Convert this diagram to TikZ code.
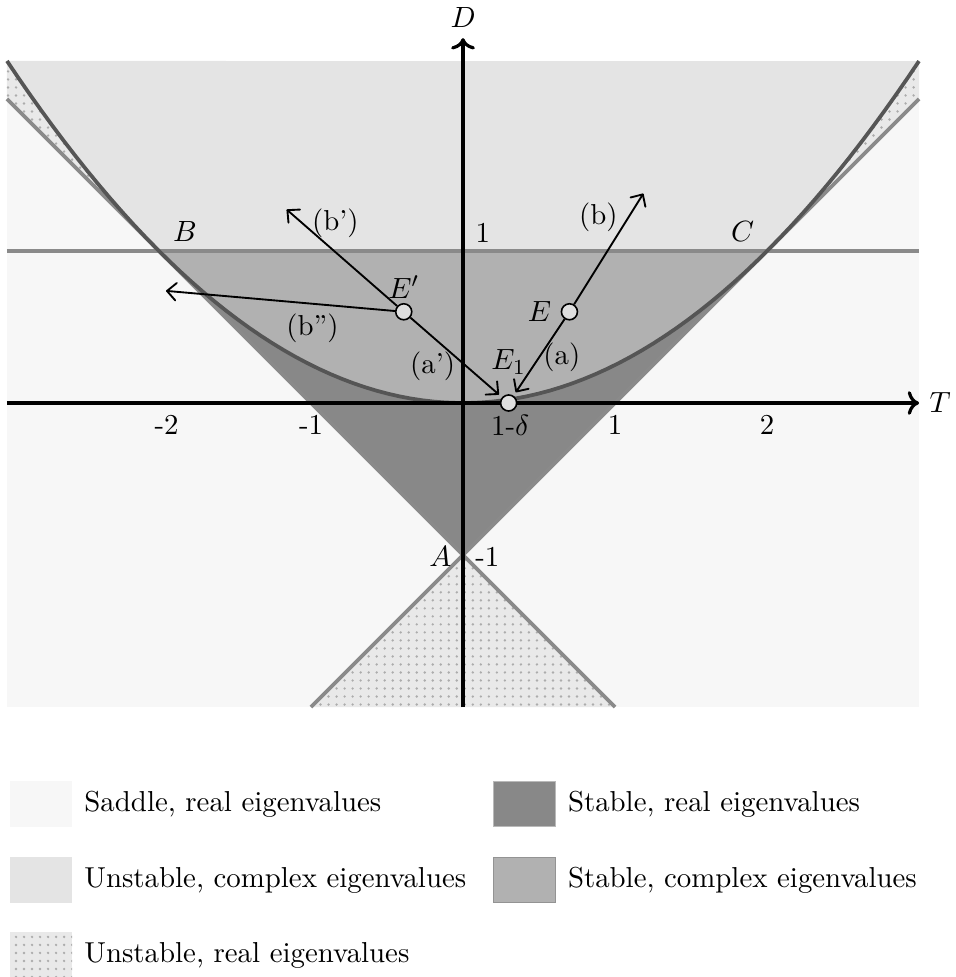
\documentclass[tikz,border=0pt]{standalone}
\usepackage{xcolor}
\definecolor{sdgray}{RGB}{247,247,247}
\definecolor{uncgray}{RGB}{228,228,228}
\definecolor{stcgray}{RGB}{177,177,177}
\definecolor{strgray}{RGB}{136,136,136}
\definecolor{dotbg}{RGB}{233,233,233}
\definecolor{dotfg}{RGB}{172,172,172}
\definecolor{parcol}{RGB}{85,85,85}
\definecolor{lincol}{RGB}{138,138,138}
\usepackage{tikz}
\usetikzlibrary{arrows.meta,positioning,patterns}
\tikzset{
  dotreg/.style={fill=dotbg,postaction={pattern=dots,pattern color=dotfg}},
  lin/.style={draw=lincol,line width=1.4pt},
  par/.style={draw=parcol,line width=1.4pt},
  axis/.style={->,line width=1.2pt},
  arr/.style={-{Straight Barb[length=1.2mm,width=2.3mm,round]},line width=0.7pt,shorten >=1.5pt},
  pt/.style={circle,draw,fill=gray!25,inner sep=0pt,minimum size=6pt,line width=0.6pt},
  legbox/.style={minimum width=8.2mm,minimum height=6mm,inner sep=0pt},
}

\begin{document}
\begin{tikzpicture}[x=2cm,y=2cm,font=\fontsize{10.8}{13}\selectfont]
\useasboundingbox (-3.046,-3.776) rectangle (3.237,2.651);
% regions
\fill[sdgray] (-3,-2) rectangle (3,2.25);
\fill[uncgray] plot[domain=-3:3,samples=60] (\x,{\x*\x/4}) -- cycle;
\fill[dotreg] (-2,1) -- (-3,2) -- (-3,2.25) -- plot[domain=-3:-2,samples=20] (\x,{\x*\x/4}) -- cycle;
\fill[dotreg] (2,1) -- (3,2) -- (3,2.25) -- plot[domain=3:2,samples=20] (\x,{\x*\x/4}) -- cycle;
\fill[dotreg] (0,-1) -- (1,-2) -- (-1,-2) -- cycle;
\fill[stcgray] plot[domain=-2:2,samples=40] (\x,{\x*\x/4}) -- cycle;
\fill[strgray] (0,-1) -- (2,1) -- plot[domain=2:-2,samples=40] (\x,{\x*\x/4}) -- cycle;
% boundaries
\draw[lin] (-3,2) -- (1,-2);
\draw[lin] (3,2) -- (-1,-2);
\draw[lin] (-3,1) -- (3,1);
\draw[par] plot[domain=-3:3,samples=80] (\x,{\x*\x/4});
% axes
\draw[axis] (-3,0) -- (3,0) node[right] (tlab) {$T$};
\draw[axis] (0,-2) -- (0,2.4) node[above] (dlab) {$D$};
\node (tm2) at (-1.95,-0.145) {-2};
\node (tm1) at (-1,-0.145) {-1};
\node (tp1) at (1,-0.145) {1};
\node (tp2) at (2,-0.145) {2};
\node (dp1) at (0.13,1.12) {1};
\node (labB) at (-1.83,1.13) {$B$};
\node (labC) at (1.84,1.13) {$C$};
\node (labA) at (-0.15,-1.01) {$A$};
\node (dm1) at (0.16,-1.01) {-1};
% equilibria
\node[pt] (E1) at (0.3,0) {};
\node[pt] (E) at (0.7,0.6) {};
\node[pt] (Ep) at (-0.39,0.6) {};
\node[left=0pt of E] (Elab) {$E$};
\node[above=-0.6mm of Ep] (Eplab) {$E'$};
\node (E1lab) at (0.3,0.27) {$E_1$};
\node (dlt) at (0.31,-0.15) {1-$\delta$};
% perturbations
\coordinate (bEnd) at (1.2,1.4);
\coordinate (bpEnd) at (-1.18,1.29);
\coordinate (bppEnd) at (-1.98,0.74);
\draw[arr] (E) -- (E1);
\draw[arr] (Ep) -- (E1);
\draw[arr] (E) -- (bEnd);
\draw[arr] (Ep) -- (bpEnd);
\draw[arr] (Ep) -- (bppEnd);
\node (la) at (0.65,0.30) {(a)};
\node (lap) at (-0.2,0.24) {(a')};
\node (lb) at (0.89,1.22) {(b)};
\node (lbp) at (-0.84,1.18) {(b')};
\node (lbpp) at (-0.99,0.49) {(b'')};
% legend
\node[legbox,fill=sdgray] (kSad) at (-2.776,-2.638) {};
\node[right=0.3mm of kSad] (tSad) {Saddle, real eigenvalues};
\node[legbox,fill=uncgray] (kUnc) at (-2.776,-3.138) {};
\node[right=0.3mm of kUnc] (tUnc) {Unstable, complex eigenvalues};
\node[legbox,dotreg] (kUnr) at (-2.776,-3.632) {};
\node[right=0.3mm of kUnr] (tUnr) {Unstable, real eigenvalues};
\node[legbox,fill=strgray,draw=gray!55,line width=0.4pt] (kStr) at (0.405,-2.638) {};
\node[right=0.3mm of kStr] (tStr) {Stable, real eigenvalues};
\node[legbox,fill=stcgray,draw=gray!85,line width=0.4pt] (kStc) at (0.405,-3.138) {};
\node[right=0.3mm of kStc] (tStc) {Stable, complex eigenvalues};
\end{tikzpicture}
\end{document}
